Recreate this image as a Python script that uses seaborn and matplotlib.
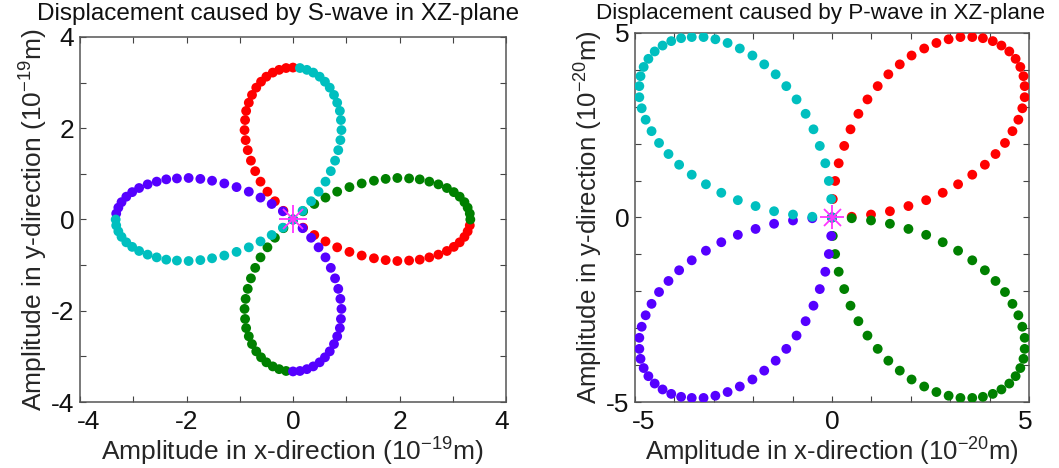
import numpy as np
import pandas as pd
import matplotlib
matplotlib.use("Agg")
import matplotlib.pyplot as plt
from matplotlib.transforms import ScaledTranslation
import seaborn as sns

# ---------------- S-wave (left panel), units 1e-19 m ----------------
s_red_x = [0.00, -0.13, -0.26, -0.38, -0.50, -0.60, -0.69, -0.77, -0.83, -0.88, -0.90, -0.91, -0.89, -0.85, -0.79, -0.71, -0.61, -0.48, -0.34, -0.18,
           0.00, 0.19, 0.40, 0.61, 0.83, 1.06, 1.29, 1.52, 1.74, 1.96, 2.18, 2.38, 2.56, 2.73, 2.89, 3.02, 3.13, 3.22, 3.28, 3.32]
s_red_y = [3.33, 3.32, 3.28, 3.22, 3.13, 3.02, 2.89, 2.73, 2.56, 2.38, 2.18, 1.96, 1.74, 1.52, 1.29, 1.06, 0.83, 0.61, 0.40, 0.19,
           0.00, -0.18, -0.34, -0.48, -0.61, -0.71, -0.79, -0.85, -0.89, -0.91, -0.90, -0.88, -0.83, -0.77, -0.69, -0.60, -0.50, -0.38, -0.26, -0.13]
s_green_x = [3.33, 3.32, 3.28, 3.22, 3.13, 3.02, 2.89, 2.73, 2.56, 2.38, 2.18, 1.96, 1.74, 1.52, 1.29, 1.06, 0.83, 0.61, 0.40, 0.19,
             0.00, -0.18, -0.34, -0.48, -0.61, -0.71, -0.79, -0.85, -0.89, -0.91, -0.90, -0.88, -0.83, -0.77, -0.69, -0.60, -0.50, -0.38, -0.26, -0.13]
s_green_y = [0.00, 0.13, 0.26, 0.38, 0.50, 0.60, 0.69, 0.77, 0.83, 0.88, 0.90, 0.91, 0.89, 0.85, 0.79, 0.71, 0.61, 0.48, 0.34, 0.18,
             0.00, -0.19, -0.40, -0.61, -0.83, -1.06, -1.29, -1.52, -1.74, -1.96, -2.18, -2.38, -2.56, -2.73, -2.89, -3.02, -3.13, -3.22, -3.28, -3.32]
s_blue_x = [0.00, 0.13, 0.26, 0.38, 0.50, 0.60, 0.69, 0.77, 0.83, 0.88, 0.90, 0.91, 0.89, 0.85, 0.79, 0.71, 0.61, 0.48, 0.34, 0.18,
            0.00, -0.19, -0.40, -0.61, -0.83, -1.06, -1.29, -1.52, -1.74, -1.96, -2.18, -2.38, -2.56, -2.73, -2.89, -3.02, -3.13, -3.22, -3.28, -3.32]
s_blue_y = [-3.33, -3.32, -3.28, -3.22, -3.13, -3.02, -2.89, -2.73, -2.56, -2.38, -2.18, -1.96, -1.74, -1.52, -1.29, -1.06, -0.83, -0.61, -0.40, -0.19,
            0.00, 0.18, 0.34, 0.48, 0.61, 0.71, 0.79, 0.85, 0.89, 0.91, 0.90, 0.88, 0.83, 0.77, 0.69, 0.60, 0.50, 0.38, 0.26, 0.13]
s_cyan_x = [-3.33, -3.32, -3.28, -3.22, -3.13, -3.02, -2.89, -2.73, -2.56, -2.38, -2.18, -1.96, -1.74, -1.52, -1.29, -1.06, -0.83, -0.61, -0.40, -0.19,
            0.00, 0.18, 0.34, 0.48, 0.61, 0.71, 0.79, 0.85, 0.89, 0.91, 0.90, 0.88, 0.83, 0.77, 0.69, 0.60, 0.50, 0.38, 0.26, 0.13]
s_cyan_y = [0.00, -0.13, -0.26, -0.38, -0.50, -0.60, -0.69, -0.77, -0.83, -0.88, -0.90, -0.91, -0.89, -0.85, -0.79, -0.71, -0.61, -0.48, -0.34, -0.18,
            0.00, 0.19, 0.40, 0.61, 0.83, 1.06, 1.29, 1.52, 1.74, 1.96, 2.18, 2.38, 2.56, 2.73, 2.89, 3.02, 3.13, 3.22, 3.28, 3.32]

# ---------------- P-wave (right panel), units 1e-20 m ----------------
p_red_x = [0.00, 0.50, 0.99, 1.47, 1.94, 2.39, 2.81, 3.20, 3.56, 3.88, 4.15, 4.39, 4.58, 4.73, 4.83, 4.89, 4.89, 4.86, 4.78, 4.66,
           4.50, 4.30, 4.08, 3.83, 3.56, 3.26, 2.96, 2.65, 2.34, 2.02, 1.72, 1.43, 1.16, 0.90, 0.67, 0.47, 0.31, 0.17, 0.08, 0.02]
p_red_y = [0.00, 0.02, 0.08, 0.17, 0.31, 0.47, 0.67, 0.90, 1.16, 1.43, 1.72, 2.02, 2.34, 2.65, 2.96, 3.26, 3.56, 3.83, 4.08, 4.30,
           4.50, 4.66, 4.78, 4.86, 4.89, 4.89, 4.83, 4.73, 4.58, 4.39, 4.15, 3.88, 3.56, 3.20, 2.81, 2.39, 1.94, 1.47, 0.99, 0.50]
p_green_x = [0.00, 0.02, 0.08, 0.17, 0.31, 0.47, 0.67, 0.90, 1.16, 1.43, 1.72, 2.02, 2.34, 2.65, 2.96, 3.26, 3.56, 3.83, 4.08, 4.30,
             4.50, 4.66, 4.78, 4.86, 4.89, 4.89, 4.83, 4.73, 4.58, 4.39, 4.15, 3.88, 3.56, 3.20, 2.81, 2.39, 1.94, 1.47, 0.99, 0.50]
p_green_y = [0.00, -0.50, -0.99, -1.47, -1.94, -2.39, -2.81, -3.20, -3.56, -3.88, -4.15, -4.39, -4.58, -4.73, -4.83, -4.89, -4.89, -4.86, -4.78, -4.66,
             -4.50, -4.30, -4.08, -3.83, -3.56, -3.26, -2.96, -2.65, -2.34, -2.02, -1.72, -1.43, -1.16, -0.90, -0.67, -0.47, -0.31, -0.17, -0.08, -0.02]
p_blue_x = [0.00, -0.50, -0.99, -1.47, -1.94, -2.39, -2.81, -3.20, -3.56, -3.88, -4.15, -4.39, -4.58, -4.73, -4.83, -4.89, -4.89, -4.86, -4.78, -4.66,
            -4.50, -4.30, -4.08, -3.83, -3.56, -3.26, -2.96, -2.65, -2.34, -2.02, -1.72, -1.43, -1.16, -0.90, -0.67, -0.47, -0.31, -0.17, -0.08, -0.02]
p_blue_y = [0.00, -0.02, -0.08, -0.17, -0.31, -0.47, -0.67, -0.90, -1.16, -1.43, -1.72, -2.02, -2.34, -2.65, -2.96, -3.26, -3.56, -3.83, -4.08, -4.30,
            -4.50, -4.66, -4.78, -4.86, -4.89, -4.89, -4.83, -4.73, -4.58, -4.39, -4.15, -3.88, -3.56, -3.20, -2.81, -2.39, -1.94, -1.47, -0.99, -0.50]
p_cyan_x = [0.00, -0.02, -0.08, -0.17, -0.31, -0.47, -0.67, -0.90, -1.16, -1.43, -1.72, -2.02, -2.34, -2.65, -2.96, -3.26, -3.56, -3.83, -4.08, -4.30,
            -4.50, -4.66, -4.78, -4.86, -4.89, -4.89, -4.83, -4.73, -4.58, -4.39, -4.15, -3.88, -3.56, -3.20, -2.81, -2.39, -1.94, -1.47, -0.99, -0.50]
p_cyan_y = [0.00, 0.50, 0.99, 1.47, 1.94, 2.39, 2.81, 3.20, 3.56, 3.88, 4.15, 4.39, 4.58, 4.73, 4.83, 4.89, 4.89, 4.86, 4.78, 4.66,
            4.50, 4.30, 4.08, 3.83, 3.56, 3.26, 2.96, 2.65, 2.34, 2.02, 1.72, 1.43, 1.16, 0.90, 0.67, 0.47, 0.31, 0.17, 0.08, 0.02]

quadrants = ["red", "green", "blue", "cyan"]
palette = {"red": "#ff0000", "green": "#008000", "blue": "#5500ff", "cyan": "#00bfbf"}

titles = ["Displacement caused by S-wave in XZ-plane",
          "Displacement caused by P-wave in XZ-plane"]
xlabels = ["Amplitude in x-direction (10$^{-19}$m)", "Amplitude in x-direction (10$^{-20}$m)"]
ylabels = ["Amplitude in y-direction (10$^{-19}$m)", "Amplitude in y-direction (10$^{-20}$m)"]
limits = [4, 5]
label_ticks = [[-4, -2, 0, 2, 4], [-5, 0, 5]]

s_df = pd.DataFrame({
    "x": s_red_x + s_green_x + s_blue_x + s_cyan_x,
    "y": s_red_y + s_green_y + s_blue_y + s_cyan_y,
    "q": sum([[q] * len(s_red_x) for q in quadrants], []),
})
p_df = pd.DataFrame({
    "x": p_red_x + p_green_x + p_blue_x + p_cyan_x,
    "y": p_red_y + p_green_y + p_blue_y + p_cyan_y,
    "q": sum([[q] * len(p_red_x) for q in quadrants], []),
})

sns.set_style("ticks")
plt.rcParams["font.family"] = ["Liberation Sans", "DejaVu Sans"]
plt.rcParams["mathtext.default"] = "regular"

fig = plt.figure(figsize=(10.59, 4.68), dpi=100)
W, H = 1059, 468
ax_boxes = [(80, 37, 506, 402), (635, 33, 1029, 402)]
title_cx = [278, 821]
title_cy = [14, 13]
title_fs = [17.5, 16.2]
label_fs = [19, 18.5]
tick_fs = [19, 19]
star_ms = [20, 17]

for i, df in enumerate([s_df, p_df]):
    x0, y0, x1, y1 = ax_boxes[i]
    ax = fig.add_axes([x0 / W, 1 - y1 / H, (x1 - x0) / W, (y1 - y0) / H])
    sns.scatterplot(data=df, x="x", y="y", hue="q", palette=palette, hue_order=quadrants,
                    s=50, linewidth=0, legend=False, ax=ax, zorder=3)
    ax.plot([0], [0], marker="+", ms=star_ms[i], mew=1.3, color="#ff33ff", zorder=5)
    ax.plot([0], [0], marker="x", ms=star_ms[i] * 0.72, mew=1.3, color="#ff33ff", zorder=5)
    L = limits[i]
    ax.set_xlim(-L, L)
    ax.set_ylim(-L, L)
    ticks = list(range(-L, L + 1))
    labs = [str(t) if t in label_ticks[i] else "" for t in ticks]
    ax.set_xticks(ticks)
    ax.set_xticklabels(labs)
    ax.set_yticks(ticks)
    ax.set_yticklabels(labs)
    ax.tick_params(direction="in", length=4, width=0.8, top=True, right=True,
                   labelsize=tick_fs[i], color="#444444", labelcolor="#111111")
    ax.tick_params(axis="x", pad=6)
    ax.tick_params(axis="y", pad=4)
    # nudge the lowest x label inwards so it does not collide with the lowest y label
    first = ax.get_xticklabels()[0]
    first.set_transform(first.get_transform() + ScaledTranslation(9 / 100, 0, fig.dpi_scale_trans))
    last = ax.get_xticklabels()[-1]
    last.set_transform(last.get_transform() + ScaledTranslation(-4 / 100, 0, fig.dpi_scale_trans))
    for sp in ax.spines.values():
        sp.set_color("#555555")
        sp.set_linewidth(1.1)
    ax.set_xlabel(xlabels[i], fontsize=label_fs[i], labelpad=1)
    ax.set_ylabel(ylabels[i], fontsize=label_fs[i], labelpad=1)
    fig.text(title_cx[i] / W, 1 - title_cy[i] / H, titles[i], ha="center", va="center",
             fontsize=title_fs[i], color="#111111")

fig.savefig("out.png", dpi=100, facecolor="white")
